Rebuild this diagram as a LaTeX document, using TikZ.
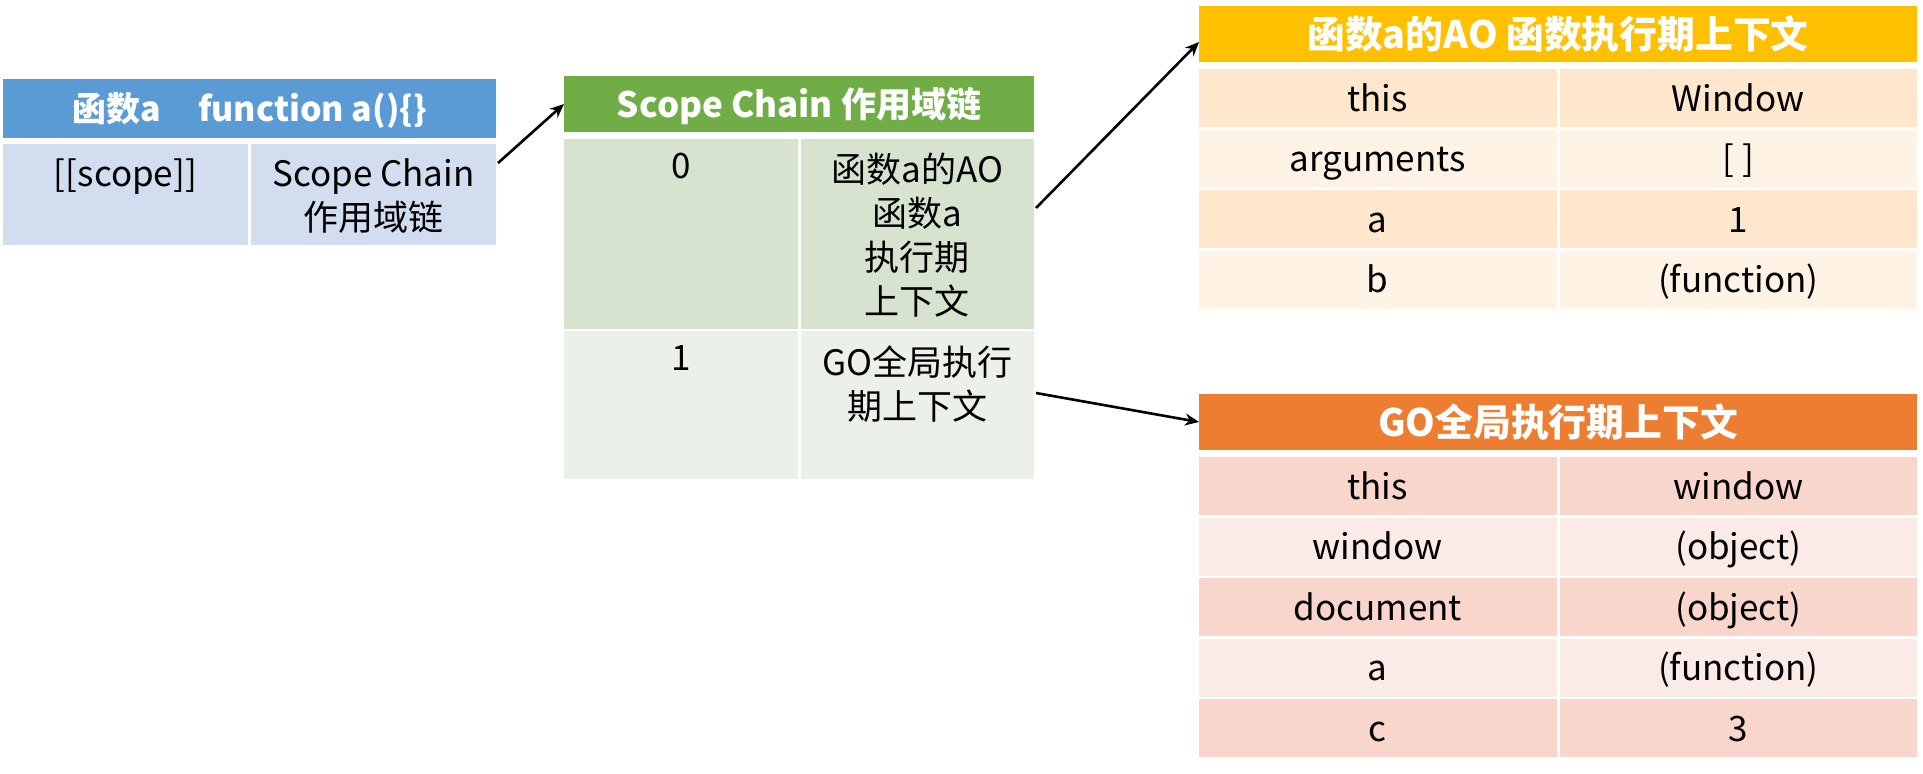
\documentclass[tikz,border=0pt]{standalone}
\usepackage{fontspec}
\setmainfont{Noto Sans CJK SC}
\usetikzlibrary{positioning, arrows.meta}

\definecolor{fnHeadC}{HTML}{5B9BD5}
\definecolor{fnBodyC}{HTML}{D2DEEF}
\definecolor{scHeadC}{HTML}{70AD47}
\definecolor{scBandA}{HTML}{D5E3CF}
\definecolor{scBandB}{HTML}{EBF1E9}
\definecolor{aoHeadC}{HTML}{FFC000}
\definecolor{aoBandA}{HTML}{FFE7CD}
\definecolor{aoBandB}{HTML}{FFF3E6}
\definecolor{goHeadC}{HTML}{ED7D31}
\definecolor{goBandA}{HTML}{F8D6CB}
\definecolor{goBandB}{HTML}{FBEBE6}

\begin{document}
\begin{tikzpicture}[
    x=0.5pt, y=-0.5pt,
    cell/.style={rectangle, inner sep=0pt, outer sep=0pt, align=center, text height=15pt, text depth=2pt, font=\fontsize{17.5}{22}\selectfont},
    head/.style={cell, text=white, font=\fontsize{17.5}{22}\selectfont\bfseries},
    bighead/.style={head, minimum width=359pt, minimum height=28pt, text height=16.5pt, text depth=2.2pt, font=\fontsize{18.9}{24}\selectfont\bfseries},
    celltxt/.style={anchor=north, inner sep=0pt, yshift=-7pt, align=center, font=\fontsize{17.5}{22}\selectfont},
    fncell/.style={cell, fill=fnBodyC, minimum width=122.5pt, minimum height=50.5pt},
    sccell/.style={cell, minimum width=116.75pt},
    row/.style={cell, minimum width=178.75pt, minimum height=29pt},
    >={Stealth[length=7pt, width=6pt]}
]
  \useasboundingbox (0,0) rectangle (1923,773);

  % function a
  \node[head, fill=fnHeadC, minimum width=246.5pt, minimum height=29.5pt, anchor=north west, font=\fontsize{17}{22}\selectfont\bfseries] (fnHead) at (3,79) {函数a\hspace{1.1em}function a()\{\}};
  \node[fncell, below=3pt of fnHead.south west, anchor=north west] (fnKey) {};
  \node[fncell, right=1.5pt of fnKey.north east, anchor=north west] (fnVal) {};
  \node[celltxt] (fnKeyTxt) at (fnKey.north) {[[scope]]};
  \node[celltxt] (fnValTxt) at (fnVal.north) {Scope Chain\\作用域链};

  % scope chain
  \node[head, fill=scHeadC, minimum width=235pt, minimum height=28pt, anchor=north west] (scHead) at (564,76) {Scope Chain 作用域链};
  \node[sccell, fill=scBandA, minimum height=95pt, below=3.5pt of scHead.south west, anchor=north west] (sc0k) {};
  \node[sccell, fill=scBandA, minimum height=95pt, right=1.5pt of sc0k.north east, anchor=north west] (sc0v) {};
  \node[sccell, fill=scBandB, minimum height=74pt, below=1pt of sc0k.south west, anchor=north west] (sc1k) {};
  \node[sccell, fill=scBandB, minimum height=74pt, right=1.5pt of sc1k.north east, anchor=north west] (sc1v) {};
  \node[celltxt] (sc0kTxt) at (sc0k.north) {0};
  \node[celltxt] (sc0vTxt) at (sc0v.north) {函数a的AO\\函数a\\执行期\\上下文};
  \node[celltxt] (sc1kTxt) at (sc1k.north) {1};
  \node[celltxt] (sc1vTxt) at (sc1v.north) {GO全局执行\\期上下文};

  % AO of a
  \node[bighead, fill=aoHeadC, anchor=north west] (aoHead) at (1199,6) {函数a的AO 函数执行期上下文};
  \node[row, fill=aoBandA, below=3.5pt of aoHead.south west, anchor=north west] (ao1k) {this};
  \node[row, fill=aoBandA, right=1.5pt of ao1k.north east, anchor=north west] (ao1v) {Window};
  \node[row, fill=aoBandB, below=1.25pt of ao1k.south west, anchor=north west] (ao2k) {arguments};
  \node[row, fill=aoBandB, right=1.5pt of ao2k.north east, anchor=north west] (ao2v) {[ ]};
  \node[row, fill=aoBandA, below=1.25pt of ao2k.south west, anchor=north west] (ao3k) {a};
  \node[row, fill=aoBandA, right=1.5pt of ao3k.north east, anchor=north west] (ao3v) {1};
  \node[row, fill=aoBandB, below=1.25pt of ao3k.south west, anchor=north west] (ao4k) {b};
  \node[row, fill=aoBandB, right=1.5pt of ao4k.north east, anchor=north west] (ao4v) {(function)};

  % GO
  \node[bighead, fill=goHeadC, anchor=north west] (goHead) at (1199,394) {GO全局执行期上下文};
  \node[row, fill=goBandA, below=3.5pt of goHead.south west, anchor=north west] (go1k) {this};
  \node[row, fill=goBandA, right=1.5pt of go1k.north east, anchor=north west] (go1v) {window};
  \node[row, fill=goBandB, below=1.25pt of go1k.south west, anchor=north west] (go2k) {window};
  \node[row, fill=goBandB, right=1.5pt of go2k.north east, anchor=north west] (go2v) {(object)};
  \node[row, fill=goBandA, below=1.25pt of go2k.south west, anchor=north west] (go3k) {document};
  \node[row, fill=goBandA, right=1.5pt of go3k.north east, anchor=north west] (go3v) {(object)};
  \node[row, fill=goBandB, below=1.25pt of go3k.south west, anchor=north west] (go4k) {a};
  \node[row, fill=goBandB, right=1.5pt of go4k.north east, anchor=north west] (go4v) {(function)};
  \node[row, fill=goBandA, below=1.25pt of go4k.south west, anchor=north west] (go5k) {c};
  \node[row, fill=goBandA, right=1.5pt of go5k.north east, anchor=north west] (go5v) {3};

  \draw[->, line width=1.3pt] ([xshift=1pt, yshift=-9.5pt]fnVal.north east) -- (scHead.west);
  \draw[->, line width=1.3pt] ([xshift=1pt, yshift=-34.5pt]sc0v.north east) -- ([yshift=-4pt]aoHead.west);
  \draw[->, line width=1.3pt] ([xshift=1pt, yshift=-31pt]sc1v.north east) -- (goHead.west);
\end{tikzpicture}
\end{document}
